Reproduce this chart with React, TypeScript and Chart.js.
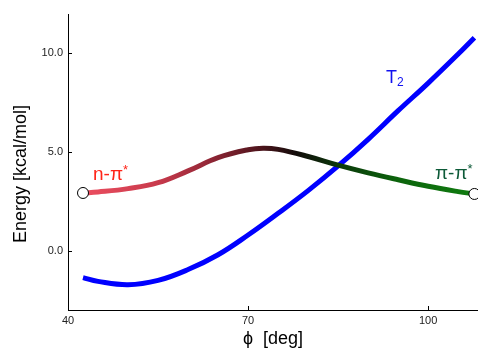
import { useEffect, useRef } from "react";
import { Chart, registerables } from "chart.js";
Chart.register(...registerables);

const t2Phi = [42.5, 45, 50, 55, 60, 65, 70, 75, 80, 85, 90, 95, 100, 105, 107.7];
const t2Energy = [-1.36, -1.55, -1.72, -1.5, -0.95, -0.2, 0.8, 1.9, 3.05, 4.3, 5.65, 7.1, 8.5, 9.97, 10.8];

const gsPhi = [42.5, 45, 50, 55, 60, 65, 70, 72.5, 75, 80, 85, 90, 95, 100, 105, 107.7];
const gsEnergy = [2.93, 2.98, 3.15, 3.45, 4.05, 4.72, 5.12, 5.2, 5.14, 4.78, 4.34, 3.95, 3.6, 3.27, 3.0, 2.88];

const xTicks = [40, 70, 100];
const yTicks = [0, 5, 10];

const FONT = "'Liberation Sans', Arial, Helvetica, sans-serif";

const gradStops: [number, string][] = [
  [42.5, "rgb(236,78,96)"],
  [55, "rgb(200,58,76)"],
  [63, "rgb(150,40,56)"],
  [72, "rgb(78,20,28)"],
  [78, "rgb(18,12,10)"],
  [85, "rgb(10,55,10)"],
  [95, "rgb(12,100,12)"],
  [107.7, "rgb(16,124,16)"],
];

export default function App() {
  const ref = useRef<HTMLCanvasElement>(null);
  useEffect(() => {
    const canvas = ref.current!;
    const overlay = {
      id: "overlay",
      afterDraw(chart: any) {
        const ctx = chart.ctx;
        const { chartArea } = chart;
        const xs = chart.scales.x;
        const ys = chart.scales.y;
        ctx.save();
        ctx.strokeStyle = "#000";
        ctx.lineWidth = 1;
        ctx.beginPath();
        for (const v of yTicks) {
          const py = Math.round(ys.getPixelForValue(v)) + 0.5;
          ctx.moveTo(chartArea.left, py);
          ctx.lineTo(chartArea.left + 4, py);
        }
        for (const v of xTicks) {
          const px = Math.round(xs.getPixelForValue(v)) + 0.5;
          ctx.moveTo(px, chartArea.bottom);
          ctx.lineTo(px, chartArea.bottom - 4);
        }
        ctx.stroke();
        ctx.fillStyle = "#000";
        ctx.font = `18px ${FONT}`;
        ctx.textAlign = "center";
        ctx.textBaseline = "middle";
        ctx.fillText("ϕ  [deg]", (chartArea.left + chartArea.right) / 2, 339);
        ctx.save();
        ctx.translate(21, 174);
        ctx.rotate(-Math.PI / 2);
        ctx.fillText("Energy [kcal/mol]", 0, 0);
        ctx.restore();
        ctx.textAlign = "left";
        ctx.textBaseline = "alphabetic";
        const drawStar = (main: string, x: number, y: number, color: string) => {
          ctx.fillStyle = color;
          ctx.font = `19px ${FONT}`;
          ctx.fillText(main, x, y);
          const w = ctx.measureText(main).width;
          ctx.font = `13px ${FONT}`;
          ctx.fillText("*", x + w, y - 6);
        };
        drawStar("n-π", 93, 180, "#ff2418");
        drawStar("π-π", 435, 179, "#0d5a38");
        ctx.fillStyle = "#1010f0";
        ctx.font = `18px ${FONT}`;
        ctx.fillText("T", 386, 83);
        const tw = ctx.measureText("T").width;
        ctx.font = `12px ${FONT}`;
        ctx.fillText("2", 386 + tw, 86);
        ctx.restore();
      },
    };

    const chart = new Chart(canvas, {
      type: "line",
      data: {
        datasets: [
          {
            label: "ends",
            data: [
              { x: gsPhi[0], y: gsEnergy[0] },
              { x: gsPhi[gsPhi.length - 1], y: gsEnergy[gsEnergy.length - 1] },
            ],
            showLine: false,
            pointRadius: 5.5,
            pointBackgroundColor: "#fff",
            pointBorderColor: "#000",
            pointBorderWidth: 1,
            order: 0,
          },
          {
            label: "ground",
            data: gsPhi.map((p, i) => ({ x: p, y: gsEnergy[i] })),
            borderWidth: 5,
            pointRadius: 0,
            tension: 0.4,
            borderColor: (c: any) => {
              const ch = c.chart;
              const { chartArea, scales } = ch;
              if (!chartArea || !scales.x) return "#c03040";
              const x0 = scales.x.getPixelForValue(gradStops[0][0]);
              const x1 = scales.x.getPixelForValue(gradStops[gradStops.length - 1][0]);
              const g = ch.ctx.createLinearGradient(x0, 0, x1, 0);
              const span = gradStops[gradStops.length - 1][0] - gradStops[0][0];
              for (const [p, col] of gradStops) g.addColorStop((p - gradStops[0][0]) / span, col);
              return g;
            },
            order: 1,
          },
          {
            label: "T2",
            data: t2Phi.map((p, i) => ({ x: p, y: t2Energy[i] })),
            borderColor: "#0000ff",
            borderWidth: 5,
            pointRadius: 0,
            tension: 0.4,
            order: 2,
          },
        ],
      },
      options: {
        animation: false,
        responsive: false,
        layout: { autoPadding: false, padding: { top: 14, right: 0, left: 0, bottom: 0 } },
        plugins: { legend: { display: false }, tooltip: { enabled: false } },
        scales: {
          x: {
            type: "linear",
            min: 40,
            max: 108.3,
            afterBuildTicks: (s: any) => {
              s.ticks = xTicks.map((v) => ({ value: v }));
            },
            afterFit: (s: any) => {
              s.height = 44;
              s.paddingLeft = 0;
              s.paddingRight = 0;
            },
            grid: { display: true, drawOnChartArea: false, drawTicks: false },
            border: { display: true, color: "#000", width: 1 },
            ticks: {
              padding: 4,
              color: "#222",
              font: { family: FONT, size: 11 },
              maxRotation: 0,
              autoSkip: false,
            },
          },
          y: {
            type: "linear",
            min: -3,
            max: 12,
            afterBuildTicks: (s: any) => {
              s.ticks = yTicks.map((v) => ({ value: v }));
            },
            afterFit: (s: any) => {
              s.width = 68;
              s.paddingTop = 0;
              s.paddingBottom = 0;
            },
            grid: { display: true, drawOnChartArea: false, drawTicks: false },
            border: { display: true, color: "#000", width: 1 },
            ticks: {
              padding: 5,
              color: "#222",
              font: { family: FONT, size: 11 },
              callback: (v: any) => Number(v).toFixed(1),
            },
          },
        },
      },
      plugins: [overlay],
    } as any);
    return () => chart.destroy();
  }, []);

  return (
    <div style={{ position: "absolute", left: 0, top: 0, width: 478, height: 354, background: "#fff" }}>
      <canvas ref={ref} width={478} height={354} />
    </div>
  );
}
